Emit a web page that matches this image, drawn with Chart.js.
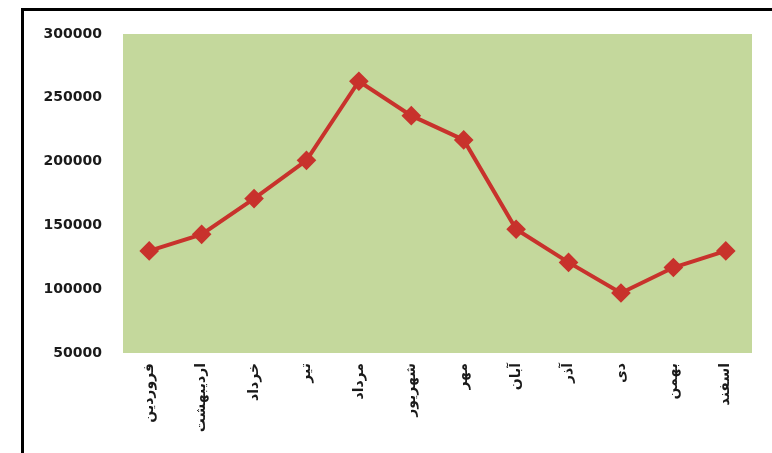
<!DOCTYPE html>
<html>
<head>
<meta charset="utf-8">
<script src="https://cdn.jsdelivr.net/npm/chart.js@4/dist/chart.umd.min.js"></script>
<style>
html,body{margin:0;padding:0;background:#ffffff;}
#wrap{width:772px;height:453px;position:relative;}
</style>
</head>
<body>
<div id="wrap"><canvas id="c" width="772" height="453"></canvas></div>
<script>
const months = ["فروردین","اردیبهشت","خرداد","تیر","مرداد","شهریور","مهر","آبان","آذر","دی","بهمن","اسفند"];
const values = [130000,143000,171000,201000,263000,236000,217000,147000,121000,97000,117000,130000];
const yMin = 50000, yMax = 300000, yStep = 50000;

const bgPlugin = {
  id: 'bg',
  beforeDraw(chart) {
    const ctx = chart.ctx, a = chart.chartArea;
    ctx.save();
    ctx.fillStyle = '#ffffff';
    ctx.fillRect(0, 0, chart.width, chart.height);
    ctx.fillStyle = '#c4d89c';
    ctx.fillRect(a.left, a.top, a.right - a.left, a.bottom - a.top);
    ctx.strokeStyle = '#000000';
    ctx.lineWidth = 3;
    ctx.strokeRect(22.5, 9.5, 800, 500);
    ctx.restore();
  }
};

new Chart(document.getElementById('c'), {
  type: 'line',
  data: {
    labels: months,
    datasets: [{
      data: values,
      borderColor: '#c8322c',
      backgroundColor: '#c8322c',
      borderWidth: 4,
      pointStyle: 'rectRot',
      pointRadius: 7,
      pointHoverRadius: 7,
      tension: 0,
      fill: false
    }]
  },
  options: {
    responsive: false,
    animation: false,
    devicePixelRatio: 1,
    layout: { padding: { left: 0, top: 34, right: 20, bottom: 0 } },
    plugins: { legend: { display: false }, tooltip: { enabled: false } },
    scales: {
      x: {
        offset: true,
        grid: { display: false, drawTicks: false },
        border: { display: false },
        afterFit(s) { s.height = 100; },
        ticks: {
          minRotation: 90, maxRotation: 90,
          padding: 10,
          color: '#1a1a1a',
          font: { family: 'DejaVu Sans', size: 14, weight: 'bold' }
        }
      },
      y: {
        min: yMin, max: yMax,
        grid: { display: false, drawTicks: false },
        border: { display: false },
        afterFit(s) { s.width = 123; },
        ticks: {
          stepSize: yStep,
          padding: 21,
          color: '#1a1a1a',
          font: { family: 'DejaVu Sans', size: 14, weight: 'bold' },
          callback: (v) => String(v)
        }
      }
    }
  },
  plugins: [bgPlugin]
});
</script>
</body>
</html>
